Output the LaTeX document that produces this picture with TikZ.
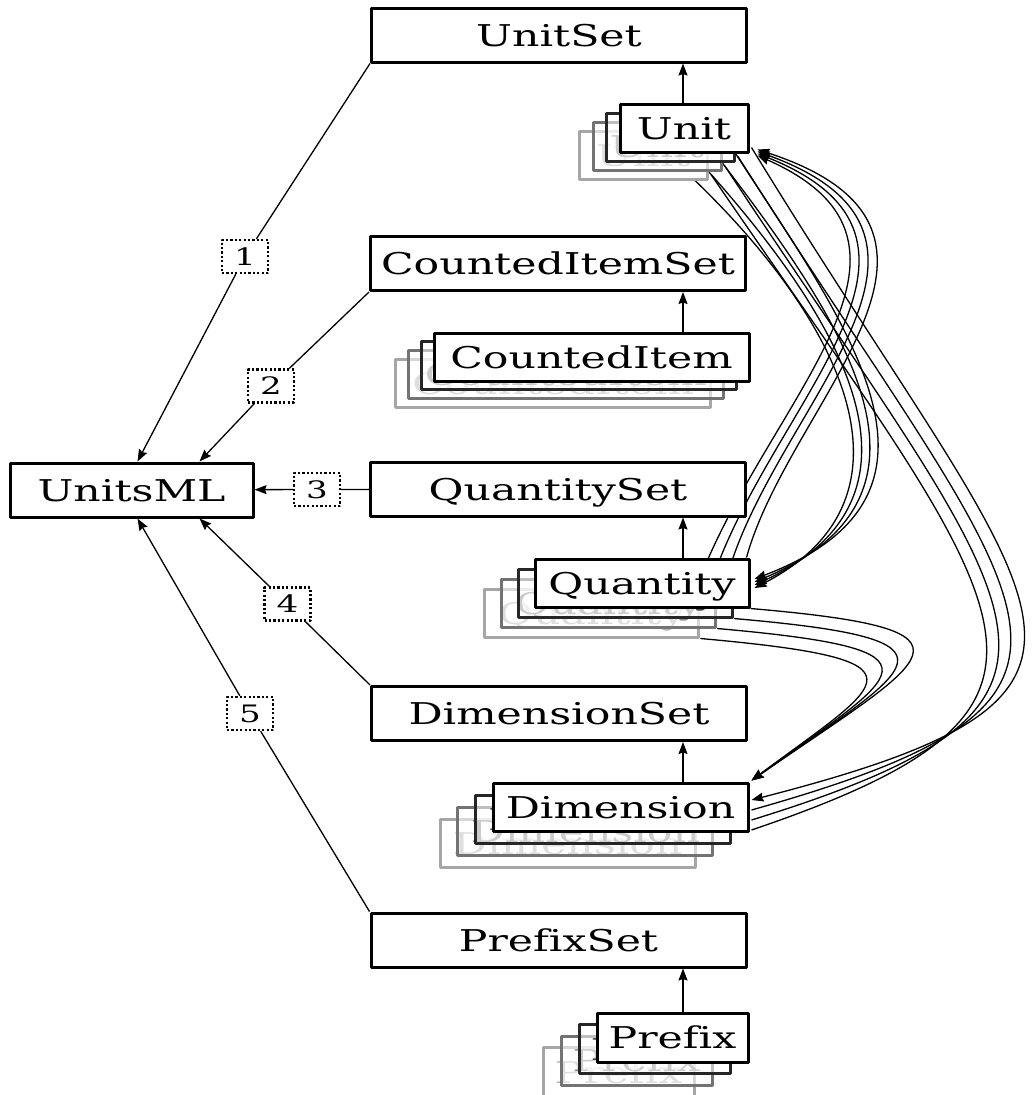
\documentclass[tikz,border=0pt]{standalone}
\usepackage{fontspec}
\setmainfont[FakeStretch=1.42, Ligatures=NoCommon]{DejaVu Serif}
\usetikzlibrary{arrows.meta,calc}
\pgfdeclarelayer{background}
\pgfsetlayers{background,main}

\begin{document}
\begin{tikzpicture}[x=1pt, y=-1pt, line join=round, >={Stealth[length=12pt,width=9pt,inset=1.5pt]},
		box/.style={draw, line width=3pt, fill=white, inner sep=0pt, text height=22pt, text depth=0pt, font=\fontsize{30}{36}\selectfont, minimum height=54pt},
		setbox/.style={box, minimum width=375pt},
		item/.style={box, minimum height=48pt},
		lay1/.style={item, draw=black!85, fill opacity=0.55, text opacity=1, text=black!75},
		lay2/.style={item, draw=black!55, fill opacity=0.55, text opacity=1, text=black!45},
		lay3/.style={item, draw=black!35, fill opacity=0.55, text opacity=1, text=black!28},
		num/.style={draw, line width=2.2pt, dash pattern=on 2.2pt off 2.2pt, fill=white, inner sep=0pt, minimum width=46pt, minimum height=33pt, text height=17pt, text depth=0pt, font=\fontsize{24}{28}\selectfont},
		link/.style={line width=1.3pt}]
	\useasboundingbox (0,0) rectangle (1033,1095);
	% sets and root
	\node[box, minimum width=243pt] (UnitsML) at (131.5,490) {UnitsML};
	\node[setbox] (UnitSet) at (559,35) {UnitSet};
	\node[setbox] (CountedItemSet) at (558,263.5) {CountedItemSet};
	\node[setbox] (QuantitySet) at (558,489) {QuantitySet};
	\node[setbox] (DimensionSet) at (559,713.5) {DimensionSet};
	\node[setbox] (PrefixSet) at (558.5,940) {PrefixSet};
	% stacked members
	\node[lay3, minimum width=128pt] (unit3) at (643.5,155) {Unit};
	\node[lay2, minimum width=128pt] (unit2) at (657,146) {Unit};
	\node[lay1, minimum width=128pt] (unit1) at (670.5,137) {Unit};
	\node[item, minimum width=128pt] (unit0) at (684,128) {Unit};
	\node[lay3, minimum width=315pt] (ci3) at (553.4,383.4) {CountedItem};
	\node[lay2, minimum width=315pt] (ci2) at (566.1,374.6) {CountedItem};
	\node[lay1, minimum width=315pt] (ci1) at (578.8,365.8) {CountedItem};
	\node[item, minimum width=315pt] (ci0) at (591.5,357) {CountedItem};
	\node[lay3, minimum width=214pt] (q3) at (591.9,613) {Quantity};
	\node[lay2, minimum width=214pt] (q2) at (608.6,603) {Quantity};
	\node[lay1, minimum width=214pt] (q1) at (625.3,593) {Quantity};
	\node[item, minimum width=214pt] (q0) at (642,583) {Quantity};
	\node[lay3, minimum width=255pt] (d3) at (567.7,843) {Dimension};
	\node[lay2, minimum width=255pt] (d2) at (585.3,831) {Dimension};
	\node[lay1, minimum width=255pt] (d1) at (602.9,819) {Dimension};
	\node[item, minimum width=255pt] (d0) at (620.5,807) {Dimension};
	\node[lay3, minimum width=151pt, minimum height=49pt] (p3) at (618.5,1072) {Prefix};
	\node[lay2, minimum width=151pt, minimum height=49pt] (p2) at (636.5,1060.5) {Prefix};
	\node[lay1, minimum width=151pt, minimum height=49pt] (p1) at (654.5,1049) {Prefix};
	\node[item, minimum width=151pt, minimum height=49pt] (p0) at (672.5,1037.5) {Prefix};
	% edge labels
	\node[num] (l1) at (245,256.5) {1};
	\node[num] (l2) at (271,386) {2};
	\node[num] (l3) at (317,489.5) {3};
	\node[num] (l4) at (287.5,604) {4};
	\node[num] (l5) at (250,713.5) {5};
	\coordinate (ax) at (683,0);
	\begin{pgfonlayer}{background}
		\draw[link] (UnitSet.south west) -- (l1);
		\draw[link,->] (l1) -- ([xshift=6pt]UnitsML.north);
		\draw[link] (CountedItemSet.south west) -- (l2);
		\draw[link,->] (l2) -- ([xshift=68pt]UnitsML.north);
		\draw[link] (QuantitySet) -- (l3);
		\draw[link,->] (l3) -- (UnitsML);
		\draw[link] (DimensionSet.north west) -- (l4);
		\draw[link,->] (l4) -- ([xshift=68pt]UnitsML.south);
		\draw[link] (PrefixSet.north west) -- (l5);
		\draw[link,->] (l5) -- ([xshift=6pt]UnitsML.south);
		% member to set
		\draw[link,->] (ax |- unit0.north) -- (ax |- UnitSet.south);
		\draw[link,->] (ax |- ci0.north) -- (ax |- CountedItemSet.south);
		\draw[link,->] (ax |- q0.north) -- (ax |- QuantitySet.south);
		\draw[link,->] (ax |- d0.north) -- (ax |- DimensionSet.south);
		\draw[link,->] (ax |- p0.north) -- (ax |- PrefixSet.south);
		% unit -> quantity
		\draw[link,->] ($(unit0.south east)+(-14,0)$) .. controls (850,330) and (975,495) .. ($(q0.east)+(4,-4)$);
		\draw[link,->] ($(unit1.south east)+(-14,0)$) .. controls (850,330) and (958,497) .. ($(q0.east)+(4,-1)$);
		\draw[link,->] ($(unit2.south east)+(-14,0)$) .. controls (850,330) and (941,499) .. ($(q0.east)+(4,2)$);
		\draw[link,->] ($(unit3.south east)+(-14,0)$) .. controls (850,330) and (924,501) .. ($(q0.east)+(4,5)$);
		% quantity -> unit
		\draw[link,->] ($(q0.north east)+(-4,0)$) .. controls (790,400) and (1005,230) .. ($(unit0.south east)+(8,-4)$);
		\draw[link,->] ($(q1.north east)+(-4,0)$) .. controls (782,400) and (990,235) .. ($(unit0.south east)+(8,-2)$);
		\draw[link,->] ($(q2.north east)+(-4,0)$) .. controls (774,400) and (975,240) .. ($(unit0.south east)+(8,0)$);
		\draw[link,->] ($(q3.north east)+(-4,0)$) .. controls (766,400) and (960,245) .. ($(unit0.south east)+(8,2)$);
		% unit -> dimension
		\draw[link,->] ($(unit0.south east)+(2,-6)$) .. controls (1040,620) and (1180,690) .. ($(d0.east)+(2,-7)$);
		\draw[link] ($(unit1.south east)+(2,-6)$) .. controls (1032,620) and (1160,695) .. ($(d0.east)+(2,3)$);
		\draw[link] ($(unit2.south east)+(2,-6)$) .. controls (1024,620) and (1140,700) .. ($(d0.east)+(2,13)$);
		\draw[link] ($(unit3.south east)+(2,-6)$) .. controls (1016,620) and (1120,705) .. ($(d0.east)+(2,23)$);
		% quantity -> dimension
		\draw[link,->] (q0.south east) .. controls (1000,630) and (930,657) .. ($(d0.north east)+(2,-1)$);
		\draw[link,->] (q1.south east) .. controls (980,640) and (915,665) .. ($(d0.north east)+(2,-1)$);
		\draw[link,->] (q2.south east) .. controls (960,650) and (900,673) .. ($(d0.north east)+(2,-1)$);
		\draw[link,->] (q3.south east) .. controls (940,660) and (885,681) .. ($(d0.north east)+(2,-1)$);
	\end{pgfonlayer}
\end{tikzpicture}
\end{document}
